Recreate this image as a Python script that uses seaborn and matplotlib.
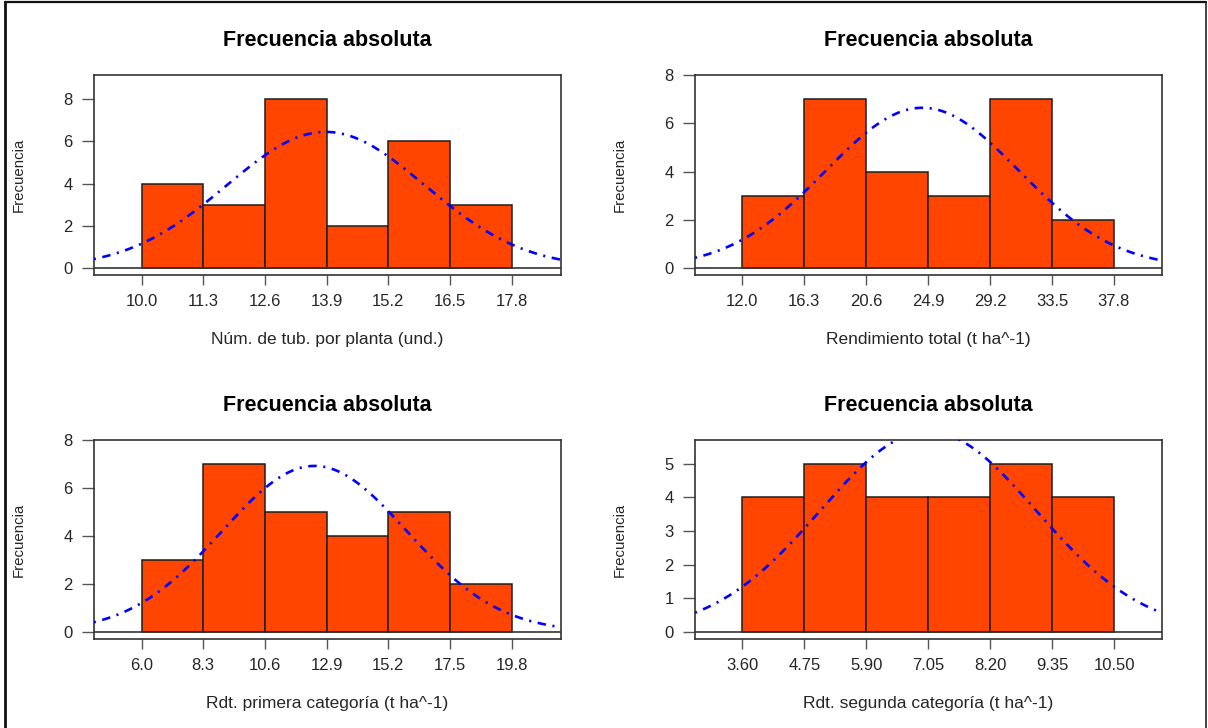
import numpy as np
import pandas as pd
import matplotlib
matplotlib.use("Agg")
import matplotlib.pyplot as plt
from matplotlib.lines import Line2D
import seaborn as sns

# Bin edges, counts and fitted normal parameters for each variable
breaks_tub = [10.0, 11.3, 12.6, 13.9, 15.2, 16.5, 17.8]
counts_tub = [4, 3, 8, 2, 6, 3]
labels_tub = ["10.0", "11.3", "12.6", "13.9", "15.2", "16.5", "17.8"]
mean_tub, sd_tub = 13.88, 2.09

breaks_total = [12.0, 16.3, 20.6, 24.9, 29.2, 33.5, 37.8]
counts_total = [3, 7, 4, 3, 7, 2]
labels_total = ["12.0", "16.3", "20.6", "24.9", "29.2", "33.5", "37.8"]
mean_total, sd_total = 24.5, 6.71

breaks_prim = [6.0, 8.3, 10.6, 12.9, 15.2, 17.5, 19.8]
counts_prim = [3, 7, 5, 4, 5, 2]
labels_prim = ["6.0", "8.3", "10.6", "12.9", "15.2", "17.5", "19.8"]
mean_prim, sd_prim = 12.45, 3.45

breaks_seg = [3.60, 4.75, 5.90, 7.05, 8.20, 9.35, 10.50]
counts_seg = [4, 5, 4, 4, 5, 4]
labels_seg = ["3.60", "4.75", "5.90", "7.05", "8.20", "9.35", "10.50"]
mean_seg, sd_seg = 7.05, 2.0

xlabels = ["Núm. de tub. por planta (und.)", "Rendimiento total (t ha^-1)",
           "Rdt. primera categoría (t ha^-1)", "Rdt. segunda categoría (t ha^-1)"]
title = "Frecuencia absoluta"
ylab = "Frecuencia"

sns.set_style("ticks")
plt.rcParams["font.family"] = ["Liberation Sans", "DejaVu Sans"]

W, H = 1208, 728
fig = plt.figure(figsize=(W / 100, H / 100), dpi=100)
fig.patch.set_facecolor("white")

def px_axes(x0, x1, y0, y1):
    return fig.add_axes([x0 / W, 1 - y1 / H, (x1 - x0) / W, (y1 - y0) / H])

panels = [
    (px_axes(93.8, 560.6, 75.0, 275.3), breaks_tub, counts_tub, labels_tub,
     mean_tub, sd_tub, (8.99, 18.83), 8.8, [0, 2, 4, 6, 8], xlabels[0]),
    (px_axes(695.0, 1162.0, 75.0, 275.3), breaks_total, counts_total, labels_total,
     mean_total, sd_total, (8.71, 41.14), 7.7, [0, 2, 4, 6, 8], xlabels[1]),
    (px_axes(93.8, 560.6, 439.7, 639.3), breaks_prim, counts_prim, labels_prim,
     mean_prim, sd_prim, (4.22, 21.63), 7.7, [0, 2, 4, 6, 8], xlabels[2]),
    (px_axes(695.0, 1162.0, 439.7, 639.3), breaks_seg, counts_seg, labels_seg,
     mean_seg, sd_seg, (2.72, 11.39), 5.5, [0, 1, 2, 3, 4, 5], xlabels[3]),
]

text_col = "#262626"
line_col = "#333333"

for ax, breaks, counts, tlabels, mu, sd, xlim, ymax, yticks, xlab in panels:
    edges = np.asarray(breaks, dtype=float)
    cnt = np.asarray(counts, dtype=float)
    df = pd.DataFrame({"mid": (edges[:-1] + edges[1:]) / 2, "n": cnt})
    sns.histplot(data=df, x="mid", weights="n", bins=list(breaks), ax=ax,
                 stat="count", color="#FF4500", edgecolor="#1e1e1e",
                 linewidth=1.1, alpha=1)

    # normal density scaled to counts
    bw = edges[1] - edges[0]
    n = cnt.sum()
    xs = np.linspace(xlim[0], xlim[1], 400)
    ys = n * bw * np.exp(-0.5 * ((xs - mu) / sd) ** 2) / (sd * np.sqrt(2 * np.pi))
    ax.plot(xs, ys, color="#0000FF", lw=1.9, dashes=(0.8, 2.5, 3.2, 2.5),
            dash_capstyle="butt", zorder=5)

    ax.axhline(0, color=line_col, lw=1.2, zorder=4)
    ax.set_xlim(*xlim)
    ax.set_ylim(-0.04 * ymax, ymax * 1.04)
    ax.set_xticks(breaks)
    ax.set_xticklabels(tlabels)
    ax.set_yticks(yticks)
    ax.tick_params(axis="x", length=7.2, width=1.0, color="#555555", pad=6,
                   labelsize=12, labelcolor=text_col, direction="out")
    ax.tick_params(axis="y", length=8.3, width=1.0, color="#555555", pad=7,
                   labelsize=12, labelcolor=text_col, direction="out")
    for s in ax.spines.values():
        s.set_visible(True)
        s.set_color(line_col)
        s.set_linewidth(1.2)
    ax.set_xlabel("")
    ax.set_ylabel("")
    ax.set_title(title, fontsize=15.5, fontweight="bold", color="black", pad=21)
    ax.text(0.5, -64.2 / 200.0, xlab, transform=ax.transAxes, ha="center",
            va="center", fontsize=12.5, color=text_col)
    ax.text(-74.8 / 467.0, 0.5, ylab, transform=ax.transAxes, ha="center",
            va="center", rotation=90, fontsize=10.8, color=text_col)

# outer frame
fig.add_artist(Line2D([5 / W, 5 / W], [0, 1 - 2 / H], color="#111111", lw=2.0,
                      transform=fig.transFigure))
fig.add_artist(Line2D([5 / W, 1206 / W], [1 - 2 / H, 1 - 2 / H], color="#111111",
                      lw=1.6, transform=fig.transFigure))
fig.add_artist(Line2D([1206 / W, 1206 / W], [0, 1 - 2 / H], color="#111111",
                      lw=1.1, transform=fig.transFigure))

fig.savefig("out.png", dpi=100, facecolor="white")
